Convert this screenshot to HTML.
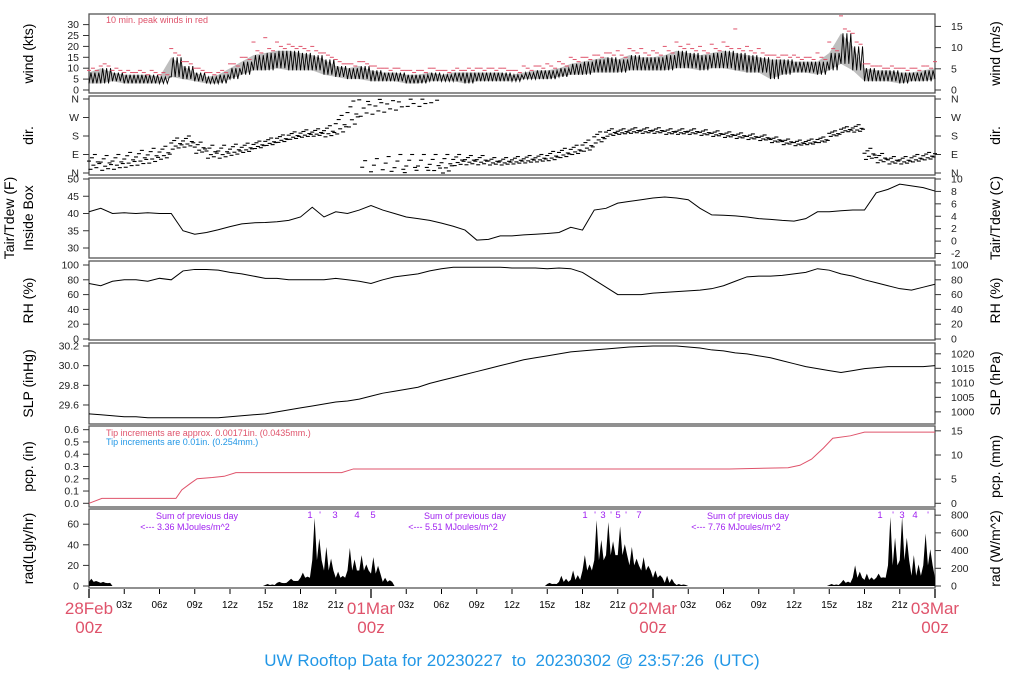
<!DOCTYPE html>
<html><head><meta charset="utf-8">
<style>
html,body{margin:0;padding:0;background:#fff;}
svg{display:block;font-family:"Liberation Sans",sans-serif;}
</style></head>
<body>
<svg id="chart" width="1024" height="700" viewBox="0 0 1024 700" xmlns="http://www.w3.org/2000/svg">
<rect x="0" y="0" width="1024" height="700" fill="#fff"/>
<g id="g"></g>
<text x="512" y="666" font-size="17" fill="#2297E6" text-anchor="middle" style="white-space:pre">UW Rooftop Data for 20230227  to  20230302 @ 23:57:26  (UTC)</text>
</svg>
<script>
// ---- data (hourly, h = 0..72 from 28Feb 00z) ----
const windLo = [3,3,4,3,3,3,3,6,5,4,3,3,5,7,9,9,10,9,9,9,7,6,5,5,
 4,4,4,3,3,4,4,4,3,4,4,4,4,5,5,5,6,7,7,8,8,8,9,9,
 9,9,10,10,9,10,10,9,8,8,5,7,8,8,7,9,12,9,4,4,4,3,4,4,5];
const windHi = [8,10,8,7,7,7,6,15,11,8,6,7,10,13,16,17,18,18,17,16,14,11,10,11,
 9,8,8,7,7,8,7,8,8,8,8,8,7,8,9,9,10,12,13,14,15,14,16,15,
 15,16,18,17,16,17,18,17,16,15,14,14,13,13,13,17,26,20,10,9,9,8,8,9,10];
const windPeak = [9,11,9,8,8,7,7,19,13,10,8,8,12,15,22,24,22,21,20,20,17,14,12,13,
 11,10,10,9,9,10,9,9,9,10,10,10,9,11,11,12,13,15,15,16,17,18,19,19,
 18,20,22,21,20,21,22,28,20,19,16,16,16,15,17,22,34,26,12,11,10,10,10,11,13];
const dirMain = [50,45,50,60,70,80,95,140,150,120,100,100,110,120,135,150,165,180,190,195,200,230,280,340,
 350,0,10,20,20,30,40,60,60,60,55,55,60,65,70,80,95,110,130,170,195,200,205,205,
 205,200,200,200,195,190,185,180,175,170,160,150,145,150,160,190,210,215,90,70,60,60,70,80,90];
const dirSpread = [40,40,40,40,40,40,35,30,30,30,35,35,30,25,20,20,20,20,20,20,30,50,70,80,
 80,80,80,70,70,60,50,30,25,25,20,20,20,20,20,25,25,25,30,30,20,15,15,15,
 15,15,15,15,15,15,15,15,15,15,15,15,15,15,15,15,15,20,30,25,20,20,20,20,20];
const tempF = [40.5,41.5,40,40.2,40,40.2,40,40,35,34,34.5,35.3,36.2,37,37.3,37.4,37.6,38,39,41.8,39,40.5,40,41,
 42.3,41,40,39,38.5,38,37.2,36.3,35.2,32.3,32.5,33.5,33.5,33.8,34,34.2,34.5,36,35.2,41,41.5,43,43.5,44,
 44.5,44.8,44.5,44,41.5,39.6,39.5,39.3,39,38.5,38.3,38,37.8,38.5,40.5,40.5,40.8,41,41,46,47,48.5,48,47.5,46.5];
const rhVals = [75,72,78,80,80,78,82,80,92,94,94,93,90,88,85,82,82,80,80,80,80,82,80,78,
 75,80,84,86,88,92,95,97,97,97,97,97,96,96,96,95,96,95,90,80,70,60,60,60,
 62,63,64,65,66,68,72,78,84,85,85,86,88,90,95,93,88,85,80,76,72,68,66,70,74];
const slpVals = [29.51,29.50,29.49,29.48,29.48,29.47,29.47,29.47,29.47,29.47,29.47,29.47,29.48,29.49,29.50,29.51,29.53,29.55,29.57,29.59,29.61,29.63,29.64,29.66,
 29.69,29.72,29.74,29.76,29.78,29.82,29.85,29.88,29.91,29.94,29.97,30.00,30.03,30.06,30.08,30.10,30.12,30.14,30.15,30.16,30.17,30.18,30.19,30.195,
 30.20,30.20,30.20,30.19,30.18,30.16,30.15,30.13,30.12,30.10,30.08,30.05,30.02,29.99,29.97,29.95,29.93,29.95,29.97,29.98,29.99,29.99,29.99,29.99,30.00];
const pcpHours = [0,1.1,7.4,7.9,8.6,9.2,10.5,11.5,12.5,21.5,22.5,54.5,59.5,60.5,61.5,62.5,63.3,64.8,66,72];
const pcpVals = [0,0.04,0.04,0.11,0.16,0.20,0.21,0.22,0.25,0.25,0.28,0.28,0.29,0.31,0.36,0.45,0.53,0.55,0.58,0.58];
const radBase = [4,3,0,0,0,0,0,0,0,0,0,0,0,0,0,1,3,5,8,25,15,8,15,15,
 12,4,0,0,0,0,0,0,0,0,0,0,0,0,0,2,4,6,15,25,30,30,20,15,
 8,3,1,0,0,0,0,0,0,0,0,0,0,0,0,1,3,8,6,8,20,25,10,20,8];
const radPeak = [7,4,0,0,0,0,0,0,0,0,0,0,0,0,0,2,4,7,13,66,38,14,37,30,
 28,8,0,0,0,0,0,0,0,0,0,0,0,0,0,3,10,15,30,64,62,58,38,28,
 15,10,2,0,0,0,0,0,0,0,0,0,0,0,0,2,6,20,12,12,67,67,30,51,15];
const hourLabels = ["03z","06z","09z","12z","15z","18z","21z"];
const dayLabels = ["28Feb","01Mar","02Mar","03Mar"];
const dayTotals = ["3.36","5.51","7.76"];

// ---- scales ----
const X0=89, X1=935;
const xs = h => X0 + h*(X1-X0)/72;
const yWind = v => 90 - 2.18*v;
const yDir = d => 173 - d*74/360;
const yTemp = t => 179 + (50-t)*3.45;
const yRH = v => 265 + (100-v)*0.74;
const ySLP = p => 346 + (30.2-p)*98.3;
const yPcp = p => 503.3 - p*122.7;
const yRad = r => 586 - r*1.03;

const NS="http://www.w3.org/2000/svg";
const G=document.getElementById('g');
function mk(tag, attrs, parent){ const e=document.createElementNS(NS,tag); for(const k in attrs) e.setAttribute(k,attrs[k]); (parent||G).appendChild(e); return e; }
function txt(s, x, y, size, fill, anchor, parent){ const t=mk('text',{x:x,y:y,'font-size':size,fill:fill,'text-anchor':anchor||'start'},parent); t.textContent=s; return t; }

const panels = [
 {name:'wind',top:14,bot:93,lab:'wind (kts)',rlab:'wind (m/s)'},
 {name:'dir',top:96,bot:175,lab:'dir.',rlab:'dir.'},
 {name:'temp',top:178,bot:258,lab:null,rlab:'Tair/Tdew (C)'},
 {name:'rh',top:261,bot:340,lab:'RH (%)',rlab:'RH (%)'},
 {name:'slp',top:343,bot:424,lab:'SLP (inHg)',rlab:'SLP (hPa)'},
 {name:'pcp',top:426,bot:507,lab:'pcp. (in)',rlab:'pcp. (mm)'},
 {name:'rad',top:509,bot:588,lab:'rad(Lgly/hr)',rlab:'rad (W/m^2)'}
];
panels.forEach(p=>{
  const r=mk('rect',{x:X0,y:p.top,width:X1-X0,height:p.bot-p.top,fill:'none',stroke:'#555','stroke-width':1.3});
  
  
  const cy=(p.top+p.bot)/2;
  if(p.lab){ const t=txt(p.lab,0,0,14,'#000','middle'); t.setAttribute('transform',`translate(33,${cy}) rotate(-90)`);
    
     }
  const t2=txt(p.rlab,0,0,14,'#000','middle'); t2.setAttribute('transform',`translate(1000,${cy}) rotate(-90)`);
  
  
});
{ const a=txt('Tair/Tdew (F)',0,0,14,'#000','middle'); a.setAttribute('transform','translate(14,218) rotate(-90)');
  
  
  const b=txt('Inside Box',0,0,14,'#000','middle'); b.setAttribute('transform','translate(33,218) rotate(-90)');
  
   }

function ltick(y,label){ mk('line',{x1:83,y1:y,x2:89,y2:y,stroke:'#333'}); txt(label,79,y+3.5,10.5,'#222','end'); }
function rtick(y,label){ mk('line',{x1:935,y1:y,x2:941,y2:y,stroke:'#333'}); txt(label,951,y+3.5,10.5,'#222','start'); }
[0,5,10,15,20,25,30].forEach(v=>ltick(yWind(v),String(v)));
[0,5,10,15].forEach(v=>rtick(yWind(v*1.9438),String(v)));
[[0,'N'],[90,'E'],[180,'S'],[270,'W'],[360,'N']].forEach(a=>{ltick(yDir(a[0]),a[1]);rtick(yDir(a[0]),a[1]);});
[30,35,40,45,50].forEach(v=>ltick(yTemp(v),String(v)));
[-2,0,2,4,6,8,10].forEach(v=>rtick(yTemp(v*1.8+32),String(v)));
[0,20,40,60,80,100].forEach(v=>{ltick(yRH(v),String(v));rtick(yRH(v),String(v));});
[29.6,29.8,30.0,30.2].forEach(v=>ltick(ySLP(v),v.toFixed(1)));
[1000,1005,1010,1015,1020].forEach(v=>rtick(ySLP(v/33.8639),String(v)));
[0,0.1,0.2,0.3,0.4,0.5,0.6].forEach(v=>ltick(yPcp(v),v.toFixed(1)));
[0,5,10,15].forEach(v=>rtick(yPcp(v/25.4),String(v)));
[0,20,40,60].forEach(v=>ltick(yRad(v),String(v)));
[0,200,400,600,800].forEach(v=>rtick(yRad(v/11.63),String(v)));

// ---- bottom time axis ----
for(let d=0; d<=3; d++){
  const x=xs(d*24);
  mk('line',{x1:x,y1:589,x2:x,y2:598,stroke:'#000','stroke-width':1.3});
  const t=txt(dayLabels[d],x,614,17,'#DF536B','middle');
  
  
  txt('00z',x,633,17,'#DF536B','middle');
  if(d<3) hourLabels.forEach((l,i)=>{ const xh=xs(d*24+(i+1)*3);
    mk('line',{x1:xh,y1:589,x2:xh,y2:594,stroke:'#000'});
    txt(l,xh,608,10,'#000','middle'); });
}

// ---- wind ----
{ const gw=mk('g',{});  
  let up=[],dn=[],zz=[];
  const n=6;
  for(let h=0;h<windLo.length;h++){ up.push(xs(h)+','+yWind(windHi[h])); dn.unshift(xs(h)+','+yWind(windLo[h]));
    if(h<72){ for(let k=0;k<n;k++){ const hh=h+k/n; zz.push(xs(hh)+','+yWind(k%2? windHi[h]: windLo[h])); } }
    else zz.push(xs(h)+','+yWind(windLo[h])); }
  mk('polygon',{points:up.concat(dn).join(' '),fill:'#444',opacity:0.35},gw);
  mk('polyline',{points:zz.join(' '),fill:'none',stroke:'#000','stroke-width':0.9},gw);
  for(let h=0;h<windPeak.length;h++){
    const vals=[windPeak[h], windHi[h]+2, windHi[h]+1];
    vals.forEach((v,k)=>{ const hh=h+k/3; if(hh>72) return; const y=yWind(v);
      const dsh=mk('line',{x1:xs(hh)-2,y1:y,x2:xs(hh)+2,y2:y,stroke:'#DF536B','stroke-width':1},gw);
      
       });
  }
  txt('10 min. peak winds in red',106,23,9,'#DF536B','start');
}
// ---- dir ----
{ const gd=mk('g',{});  
  const offs=[0.2,-0.8,0.6,-0.3,1,-0.6,0.1,-0.1];
  for(let h=0;h<dirMain.length;h++){
    for(let k=0;k<offs.length;k++){ const hh=h+k/offs.length; if(hh>72) break;
      let d=dirMain[h]+offs[k]*dirSpread[h]; d=((d%360)+360)%360;
      const y=yDir(d), x=xs(hh);
      mk('line',{x1:x-2,y1:y,x2:x+2,y2:y,stroke:'#000','stroke-width':1.1},gd); }
  }
}
function series(arr, yf, name, color){
  const pts=arr.map((v,h)=>xs(h)+','+yf(v)).join(' ');
  const l=mk('polyline',{points:pts,fill:'none',stroke:color||'#000','stroke-width':1});
  
  
}
series(tempF,yTemp,'temperature-line');
series(rhVals,yRH,'rh-line');
series(slpVals,ySLP,'slp-line');
// ---- pcp ----
{ const pts=pcpHours.map((h,i)=>xs(h)+','+yPcp(pcpVals[i])).join(' ');
  const l=mk('polyline',{points:pts,fill:'none',stroke:'#DF536B','stroke-width':1});
  
  
  txt('Tip increments are approx. 0.00171in. (0.0435mm.)',106,436,9,'#DF536B','start');
  txt('Tip increments are 0.01in. (0.254mm.)',106,445,9,'#2297E6','start'); }
// ---- rad ----
{ let pts=[xs(0)+','+yRad(0)];
  for(let h=0;h<radBase.length;h++){
    if(h<72){ pts.push(xs(h)+','+yRad(radBase[h])); pts.push(xs(h+0.2)+','+yRad(radPeak[h]));
      pts.push(xs(h+0.4)+','+yRad(radBase[h])); pts.push(xs(h+0.6)+','+yRad(radPeak[h]*0.7));
      pts.push(xs(h+0.8)+','+yRad(radBase[h])); }
    else pts.push(xs(h)+','+yRad(radBase[h])); }
  pts.push(xs(72)+','+yRad(0));
  const p=mk('polygon',{points:pts.join(' '),fill:'#000'});
  
  
  const cx=[197,465,748];
  dayTotals.forEach((v,i)=>{ txt('Sum of previous day',cx[i],519,9,'#A020F0','middle');
    txt('<--- '+v+' MJoules/m^2',cx[i]-12,530,9,'#A020F0','middle'); });
  const marks=[[310,'1'],[320,"'"],[335,'3'],[357,'4'],[373,'5'],
    [585,'1'],[595,"'"],[603,'3'],[611,"'"],[618,'5'],[626,"'"],[639,'7'],
    [880,'1'],[893,"'"],[902,'3'],[915,'4'],[928,"'"]];
  marks.forEach(m=>txt(m[1],m[0],518,9.5,'#A020F0','middle'));
}
</script>
</body></html>
